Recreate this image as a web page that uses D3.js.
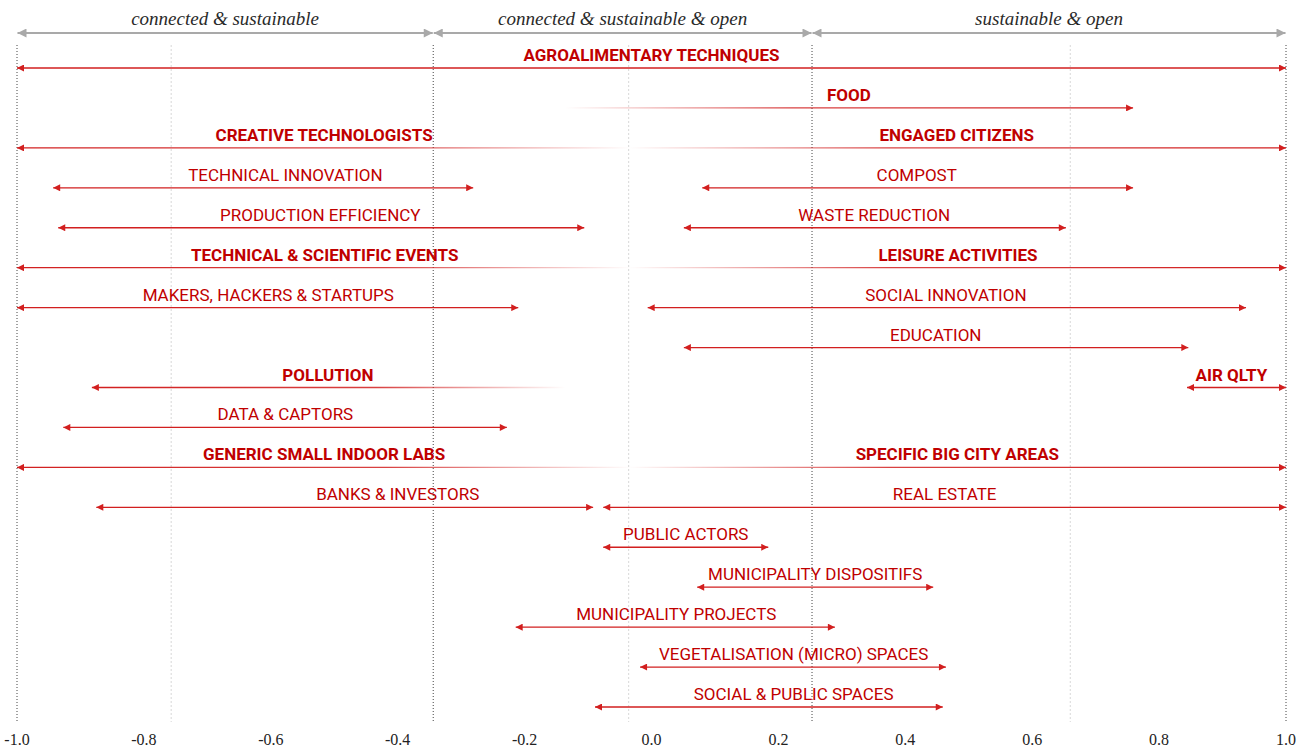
<!DOCTYPE html>
<html>
<head>
<meta charset="utf-8">
<script src="https://cdn.jsdelivr.net/npm/d3@7"></script>
<style>
  html, body { margin: 0; padding: 0; background: #fff; }
  svg { display: block; }
</style>
</head>
<body>
<svg id="chart" width="1308" height="750"></svg>
<script>
// ---------- data ----------
const regionLabels = ["connected & sustainable", "connected & sustainable & open", "sustainable & open"];
const regionStarts = [-1.0, -0.344, 0.253];
const regionEnds   = [-0.344, 0.253, 1.0];

const tickValues = [-1.0, -0.8, -0.6, -0.4, -0.2, 0.0, 0.2, 0.4, 0.6, 0.8, 1.0];
const dividerValues = [-1.0, -0.344, 0.253, 1.0];
const guideValues = [-0.757, -0.036, 0.66];

const labels = [
  "AGROALIMENTARY TECHNIQUES",
  "FOOD",
  "CREATIVE TECHNOLOGISTS", "ENGAGED CITIZENS",
  "TECHNICAL INNOVATION", "COMPOST",
  "PRODUCTION EFFICIENCY", "WASTE REDUCTION",
  "TECHNICAL & SCIENTIFIC EVENTS", "LEISURE ACTIVITIES",
  "MAKERS, HACKERS & STARTUPS", "SOCIAL INNOVATION",
  "EDUCATION",
  "POLLUTION", "AIR QLTY",
  "DATA & CAPTORS",
  "GENERIC SMALL INDOOR LABS", "SPECIFIC BIG CITY AREAS",
  "BANKS & INVESTORS", "REAL ESTATE",
  "PUBLIC ACTORS",
  "MUNICIPALITY DISPOSITIFS",
  "MUNICIPALITY PROJECTS",
  "VEGETALISATION (MICRO) SPACES",
  "SOCIAL & PUBLIC SPACES"
];
const rows = [0, 1, 2, 2, 3, 3, 4, 4, 5, 5, 6, 6, 7, 8, 8, 9, 10, 10, 11, 11, 12, 13, 14, 15, 16];
const starts = [-1.0, -0.136, -1.0, -0.037, -0.943, 0.080, -0.935, 0.051, -1.0, -0.037, -1.0, -0.006, 0.051, -0.882, 0.844, -0.927, -1.0, -0.037, -0.875, -0.076, -0.076, 0.072, -0.214, -0.018, -0.089];
const ends   = [1.0, 0.759, -0.032, 1.0, -0.281, 0.759, -0.106, 0.653, -0.032, 1.0, -0.210, 0.937, 0.846, -0.136, 1.0, -0.228, -0.032, 1.0, -0.092, 1.0, 0.184, 0.444, 0.289, 0.464, 0.459];
const labelAt = [0.0, 0.311, -0.516, 0.481, -0.577, 0.418, -0.522, 0.351, -0.515, 0.483, -0.604, 0.464, 0.448, -0.510, 0.914, -0.577, -0.516, 0.482, -0.400, 0.462, 0.054, 0.258, 0.039, 0.224, 0.224];
const bold = [true, true, true, true, false, false, false, false, true, true, false, false, false, true, true, false, true, true, false, false, false, false, false, false, false];
// fade: "none" = arrowheads both ends, "left" = fades out toward start, "right" = fades out toward end
const fade = ["none", "left", "right", "left", "none", "none", "none", "none", "right", "left", "none", "none", "none", "right", "none", "none", "right", "left", "none", "none", "none", "none", "none", "none", "none"];

// ---------- drawing ----------
const svg = d3.select("#chart");
const x = d3.scaleLinear().domain([-1, 1]).range([17, 1286]);
const y = d3.scaleLinear().domain([0, 16]).range([68, 707]);

const RED_LINE = "#d21f1f";
const RED_TEXT = "#c00000";
const GREY = "#a9a9a9";

const defs = svg.append("defs");
function marker(id, color, orient, w, h) {
  defs.append("marker")
    .attr("id", id)
    .attr("viewBox", "0 0 10 10")
    .attr("refX", 10).attr("refY", 5)
    .attr("markerWidth", w).attr("markerHeight", h)
    .attr("markerUnits", "userSpaceOnUse")
    .attr("orient", orient)
    .append("path").attr("d", "M0,0 L10,5 L0,10 Z").attr("fill", color);
}
marker("redArrow", RED_LINE, "auto-start-reverse", 8, 7);
marker("greyArrow", GREY, "auto-start-reverse", 10, 9);

// vertical guides
svg.append("g").selectAll("line").data(guideValues).join("line")
  .attr("x1", d => x(d)).attr("x2", d => x(d))
  .attr("y1", 45).attr("y2", 722)
  .attr("stroke", "#d8d8d8").attr("stroke-width", 1)
  .attr("stroke-dasharray", "2,2");

svg.append("g").selectAll("line").data(dividerValues).join("line")
  .attr("x1", d => x(d)).attr("x2", d => x(d))
  .attr("y1", 45).attr("y2", 722)
  .attr("stroke", "#444").attr("stroke-width", 1)
  .attr("stroke-dasharray", "1,2");

// region header arrows
const hdr = svg.append("g");
regionLabels.forEach((lab, i) => {
  hdr.append("line")
    .attr("x1", x(regionStarts[i]) + 0.5).attr("x2", x(regionEnds[i]) - 0.5)
    .attr("y1", 33).attr("y2", 33)
    .attr("stroke", GREY).attr("stroke-width", 2)
    .attr("marker-start", "url(#greyArrow)")
    .attr("marker-end", "url(#greyArrow)");
  hdr.append("text")
    .attr("x", (x(regionStarts[i]) + x(regionEnds[i])) / 2)
    .attr("y", 25)
    .attr("text-anchor", "middle")
    .attr("font-family", "'Liberation Serif', 'DejaVu Serif', serif")
    .attr("font-style", "italic")
    .attr("font-size", 19)
    .attr("fill", "#2a2a2a")
    .text(lab);
});

// segments
const segs = labels.map((lab, i) => ({
  label: lab, row: rows[i], s: starts[i], e: ends[i], at: labelAt[i], bold: bold[i], fade: fade[i], i
}));

segs.forEach(d => {
  if (d.fade !== "none") {
    const g = defs.append("linearGradient")
      .attr("id", "grad" + d.i)
      .attr("gradientUnits", "userSpaceOnUse")
      .attr("x1", x(d.s)).attr("x2", x(d.e)).attr("y1", 0).attr("y2", 0);
    if (d.fade === "right") {
      g.append("stop").attr("offset", 0).attr("stop-color", RED_LINE).attr("stop-opacity", 1);
      g.append("stop").attr("offset", 0.6).attr("stop-color", RED_LINE).attr("stop-opacity", 0.85);
      g.append("stop").attr("offset", 1).attr("stop-color", RED_LINE).attr("stop-opacity", 0);
    } else {
      g.append("stop").attr("offset", 0).attr("stop-color", RED_LINE).attr("stop-opacity", 0);
      g.append("stop").attr("offset", 0.4).attr("stop-color", RED_LINE).attr("stop-opacity", 0.85);
      g.append("stop").attr("offset", 1).attr("stop-color", RED_LINE).attr("stop-opacity", 1);
    }
  }
});

const segG = svg.append("g");
segG.selectAll("line").data(segs).join("line")
  .attr("x1", d => x(d.s)).attr("x2", d => x(d.e))
  .attr("y1", d => y(d.row)).attr("y2", d => y(d.row))
  .attr("stroke", d => d.fade === "none" ? RED_LINE : `url(#grad${d.i})`)
  .attr("stroke-width", 1.3)
  .attr("marker-start", d => d.fade === "left" ? null : "url(#redArrow)")
  .attr("marker-end", d => d.fade === "right" ? null : "url(#redArrow)");

segG.selectAll("text").data(segs).join("text")
  .attr("x", d => x(d.at))
  .attr("y", d => y(d.row) - 7)
  .attr("text-anchor", "middle")
  .attr("font-family", "Roboto, 'Noto Sans', sans-serif")
  .attr("font-weight", d => d.bold ? 700 : 400)
  .attr("font-size", 17)
  .attr("fill", RED_TEXT)
  .text(d => d.label);

// x axis tick labels
svg.append("g").selectAll("text").data(tickValues).join("text")
  .attr("x", d => x(d))
  .attr("y", 745)
  .attr("text-anchor", "middle")
  .attr("font-family", "'Liberation Serif', 'DejaVu Serif', serif")
  .attr("font-size", 16)
  .attr("fill", "#222")
  .text(d => d3.format(".1f")(d).replace("\u2212", "-"));
</script>
</body>
</html>
